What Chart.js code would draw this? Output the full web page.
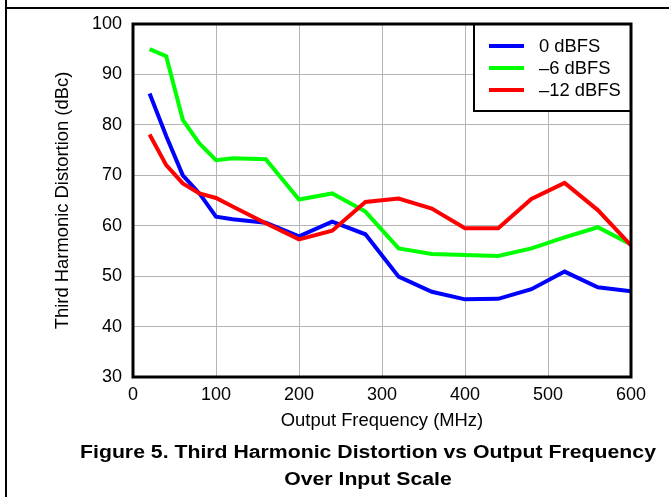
<!DOCTYPE html>
<html>
<head>
<meta charset="utf-8">
<script src="https://cdn.jsdelivr.net/npm/chart.js@4.4.1/dist/chart.umd.min.js"></script>
<style>
  html, body { margin: 0; padding: 0; background: #fff; overflow: hidden; }
  #wrap { position: relative; width: 669px; height: 497px; }
  #c { position: absolute; left: 0; top: 0; }
  #frameL { position: absolute; left: 5px; top: 0; width: 2px; height: 497px; background: #000; }
  #frameT { position: absolute; left: 5px; top: 7px; width: 664px; height: 2px; background: #000; }
  #caption { position: absolute; left: 68px; top: 439px; width: 600px; text-align: center;
    font-family: "Liberation Sans", Arial, sans-serif; font-weight: bold; font-size: 18px; line-height: 27px; color: #000;
    transform: scaleX(1.18); transform-origin: 300px 0; }
</style>
</head>
<body>
<div id="wrap">
  <canvas id="c" width="669" height="497"></canvas>
  <div id="frameL"></div>
  <div id="frameT"></div>
  <div id="caption">Figure 5. Third Harmonic Distortion vs Output Frequency<br>Over Input Scale</div>
</div>
<script>
const freqMHz = [20, 40, 60, 80, 100, 120, 160, 200, 240, 280, 320, 360, 400, 440, 480, 520, 560, 600];
const hd3_0dBFS  = [86.2, 77.8, 70.0, 66.4, 61.8, 61.3, 60.6, 57.9, 60.8, 58.3, 49.9, 46.9, 45.4, 45.5, 47.4, 50.9, 47.8, 47.0];
const hd3_m6dBFS = [95.0, 93.6, 81.0, 76.3, 73.0, 73.4, 73.2, 65.2, 66.4, 62.8, 55.5, 54.4, 54.2, 54.0, 55.5, 57.7, 59.7, 56.3];
const hd3_m12dBFS = [78.1, 72.0, 68.4, 66.4, 65.5, 63.8, 60.5, 57.3, 59.0, 64.7, 65.4, 63.4, 59.5, 59.5, 65.3, 68.5, 63.1, 56.1];
const seriesLabels = ["0 dBFS", "\u20136 dBFS", "\u201312 dBFS"];
const seriesColors = ["#0000ff", "#00ff00", "#ff0000"];
const xTitle = "Output Frequency (MHz)";
const yTitle = "Third Harmonic Distortion (dBc)";

const FONT = '"Liberation Sans", Arial, sans-serif';
Chart.defaults.color = '#000';
Chart.defaults.font.family = FONT;

function pts(vals) { return freqMHz.map((f, i) => ({ x: f, y: vals[i] })); }

const frameAndLegend = {
  id: 'frameAndLegend',
  afterDraw(chart) {
    const ctx = chart.ctx;
    const a = chart.chartArea;
    ctx.save();
    // legend box
    const lx = 474, ly = a.top, lw = a.right - 474, lh = 87;
    ctx.fillStyle = '#fff';
    ctx.fillRect(lx, ly, lw, lh);
    ctx.strokeStyle = '#000';
    ctx.lineWidth = 2;
    ctx.strokeRect(lx, ly, lw, lh);
    ctx.font = '18.4px ' + FONT;
    ctx.textBaseline = 'middle';
    ctx.textAlign = 'left';
    chart.data.datasets.forEach((ds, i) => {
      const y = ly + 22 + i * 22;
      ctx.strokeStyle = ds.borderColor;
      ctx.lineWidth = 4;
      ctx.beginPath();
      ctx.moveTo(489, y);
      ctx.lineTo(524, y);
      ctx.stroke();
      ctx.fillStyle = '#000';
      ctx.fillText(ds.label, 539, y + 1);
    });
    // plot border
    ctx.strokeStyle = '#000';
    ctx.lineWidth = 3;
    ctx.strokeRect(a.left, a.top, a.right - a.left, a.bottom - a.top);
    ctx.restore();
  }
};

new Chart(document.getElementById('c'), {
  type: 'line',
  data: {
    datasets: [
      { label: seriesLabels[0], data: pts(hd3_0dBFS), borderColor: seriesColors[0], order: 3 },
      { label: seriesLabels[1], data: pts(hd3_m6dBFS), borderColor: seriesColors[1], order: 2 },
      { label: seriesLabels[2], data: pts(hd3_m12dBFS), borderColor: seriesColors[2], order: 1 }
    ]
  },
  options: {
    responsive: false,
    animation: false,
    events: [],
    layout: { padding: { top: 24, right: 38, bottom: 50, left: 0 } },
    elements: {
      line: { borderWidth: 4, tension: 0, fill: false },
      point: { radius: 0 }
    },
    plugins: { legend: { display: false }, tooltip: { enabled: false } },
    scales: {
      x: {
        type: 'linear', min: 0, max: 600,
        ticks: { stepSize: 100, padding: 7, font: { size: 18 }, color: '#000' },
        grid: { color: '#b4b4b4', lineWidth: 1, drawTicks: false },
        border: { display: false },
        title: { display: true, text: xTitle, font: { size: 18.4 }, color: '#000', padding: { top: 0, bottom: 15 } },
        afterFit(scale) { scale.height = 70; }
      },
      y: {
        type: 'linear', min: 30, max: 100,
        ticks: { stepSize: 10, padding: 11, font: { size: 18 }, color: '#000' },
        grid: { color: '#b4b4b4', lineWidth: 1, drawTicks: false },
        border: { display: false },
        title: { display: true, text: yTitle, font: { size: 18.4 }, color: '#000', padding: { top: 52, bottom: 0 } },
        afterFit(scale) { scale.width = 133; }
      }
    }
  },
  plugins: [frameAndLegend]
});
</script>
</body>
</html>
